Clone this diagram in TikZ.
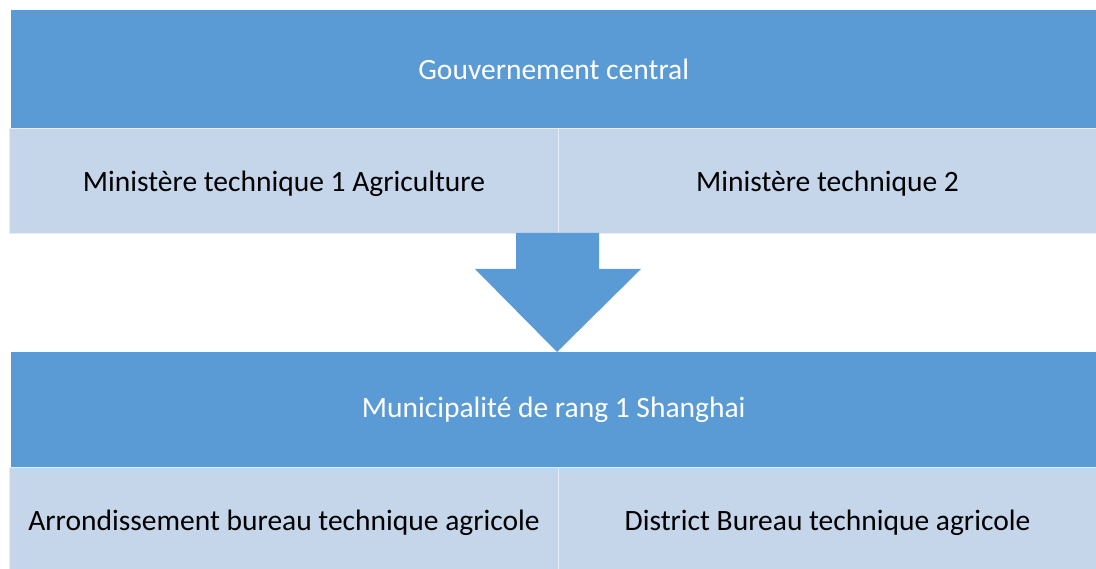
\documentclass[tikz,border=0pt]{standalone}
\usepackage{fontspec}
\setmainfont{Carlito}
\usetikzlibrary{positioning}
\definecolor{darkblue}{RGB}{91,155,213}
\definecolor{paleblue}{RGB}{197,213,234}

\begin{document}
\begin{tikzpicture}[x=1pt, y=-1pt,
    headbox/.style={anchor=north west, inner sep=0pt, fill=darkblue, text=white, font=\fontsize{29.5}{34}\selectfont},
    subbox/.style={anchor=north west, inner sep=0pt, fill=paleblue, draw=white!55!paleblue, line width=1pt, text=black, text height=28pt, text depth=6pt, font=\fontsize{29.5}{34}\selectfont}]
    \useasboundingbox (0,0) rectangle (1096,569);
    % level 1
    \node[headbox, minimum width=1085pt, minimum height=118pt] (central) at (11,10) {Gouvernement central};
    \node[subbox, minimum width=549pt, minimum height=105pt] (minA) at (9,128) {Ministère technique 1 Agriculture};
    \node[subbox, minimum width=538pt, minimum height=105pt] (minB) at (558,128) {Ministère technique 2};
    % level 2
    \node[headbox, minimum width=1085pt, minimum height=115pt] (muni) at (11,352) {Municipalité de rang 1 Shanghai};
    \node[subbox, minimum width=549pt, minimum height=104pt] (arr) at (9,467) {Arrondissement bureau technique agricole};
    \node[subbox, minimum width=538pt, minimum height=104pt] (dist) at (558,467) {District Bureau technique agricole};
    % block arrow
    \coordinate (tip) at (557,352);
    \fill[darkblue] (516,233) -- (599,233) -- (599,269) -- (641,269) -- (tip) -- (475,269) -- (516,269) -- cycle;
\end{tikzpicture}
\end{document}
